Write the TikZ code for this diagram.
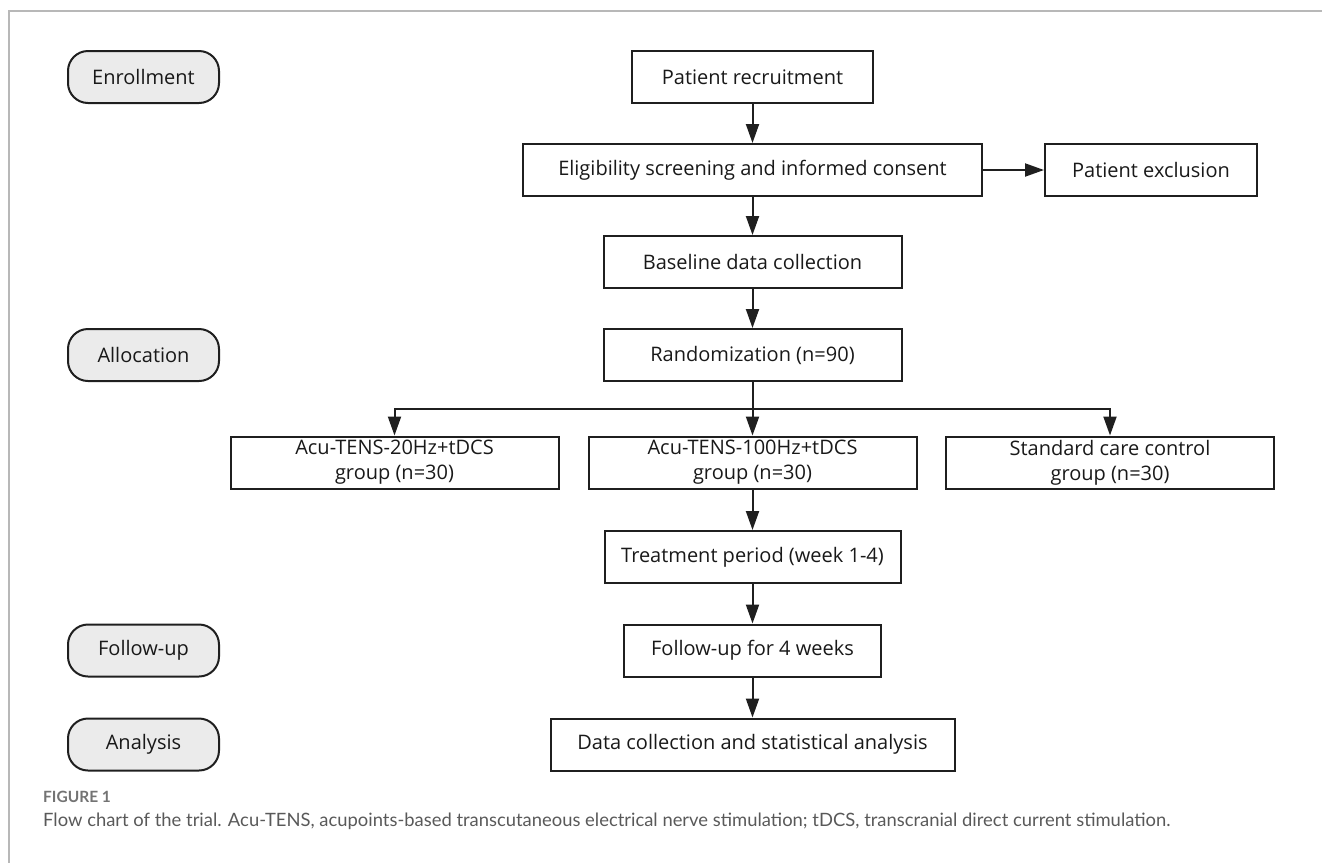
\documentclass[tikz,border=0pt]{standalone}
\usepackage{fontspec}
\setmainfont{Open Sans}
\newfontfamily\capfont{Lato}
\usetikzlibrary{arrows.meta, calc, positioning}

\begin{document}
\begin{tikzpicture}[x=1pt, y=-1pt,
    box/.style={draw=black!88, text=black!90, line width=2pt, minimum height=52pt, inner sep=0pt, align=center, font=\fontsize{20}{25}\selectfont},
    phase/.style={box, fill=black!8, rounded corners=20pt, minimum width=151pt},
    arr/.style={draw=black!88, line width=2pt, -{Triangle[length=19pt, width=13pt]}}]
    \useasboundingbox (0, 0) rectangle (1322, 863);
    \draw[black!28, line width=1.2pt] (1322, 11) -- (9, 11) -- (9, 863);

    % phases on the left
    \node[phase] (enrol) at (143.5, 77) {Enrollment};
    \node[phase] (alloc) at (143.5, 355) {Allocation};
    \node[phase] (follow) at (143.5, 650.5) {Follow-up};
    \node[phase] (analysis) at (143.5, 744.5) {Analysis};

    % main column
    \node[box, minimum width=241pt] (recruit) at (752.5, 77) {Patient recruitment};
    \node[box, minimum width=459pt] (elig) at ($(recruit) + (0, 93)$) {Eligibility screening and informed consent};
    \node[box, minimum width=212pt] (excl) at ($(elig) + (398.5, 0)$) {Patient exclusion};
    \node[box, minimum width=298pt] (base) at ($(elig) + (0, 92)$) {Baseline data collection};
    \node[box, minimum width=298pt] (rand) at ($(base) + (0, 93)$) {Randomization (n=90)};

    \node[box, minimum width=328pt] (g100) at ($(rand) + (0, 107.5)$) {Acu-TENS-100Hz+tDCS\\group (n=30)};
    \node[box, minimum width=328pt] (g20) at ($(g100) + (-358, 0)$) {Acu-TENS-20Hz+tDCS\\group (n=30)};
    \node[box, minimum width=328pt] (gstd) at ($(g100) + (357.5, 0)$) {Standard care control\\group (n=30)};

    \node[box, minimum width=296pt] (treat) at ($(g100) + (0, 94.5)$) {Treatment period (week 1-4)};
    \node[box, minimum width=257pt] (fup) at ($(treat) + (0, 93.5)$) {Follow-up for 4 weeks};
    \node[box, minimum width=404pt] (data) at ($(fup) + (0, 94)$) {Data collection and statistical analysis};

    \coordinate (split) at ($(rand.south)!0.5!(g100.north)$);

    \draw[arr] (recruit) -- (elig);
    \draw[arr] (elig) -- (excl);
    \draw[arr] (elig) -- (base);
    \draw[arr] (base) -- (rand);
    \draw[arr] (rand) -- (g100);
    \draw[arr] (split) -| (g20);
    \draw[arr] (split) -| (gstd);
    \draw[arr] (g100) -- (treat);
    \draw[arr] (treat) -- (fup);
    \draw[arr] (fup) -- (data);

    % caption
    \node[anchor=west, inner sep=0pt, text=black!55, font=\capfont\bfseries\fontsize{15.5}{18}\selectfont] (figlab) at (43, 797) {FIGURE 1};
    \node[anchor=west, inner sep=0pt, text=black!65, font=\capfont\fontsize{18.4}{21}\selectfont] (caption) at (43, 821) {Flow chart of the trial. Acu-TENS, acupoints-based transcutaneous electrical nerve stimulation; tDCS, transcranial direct current stimulation.};
\end{tikzpicture}
\end{document}
